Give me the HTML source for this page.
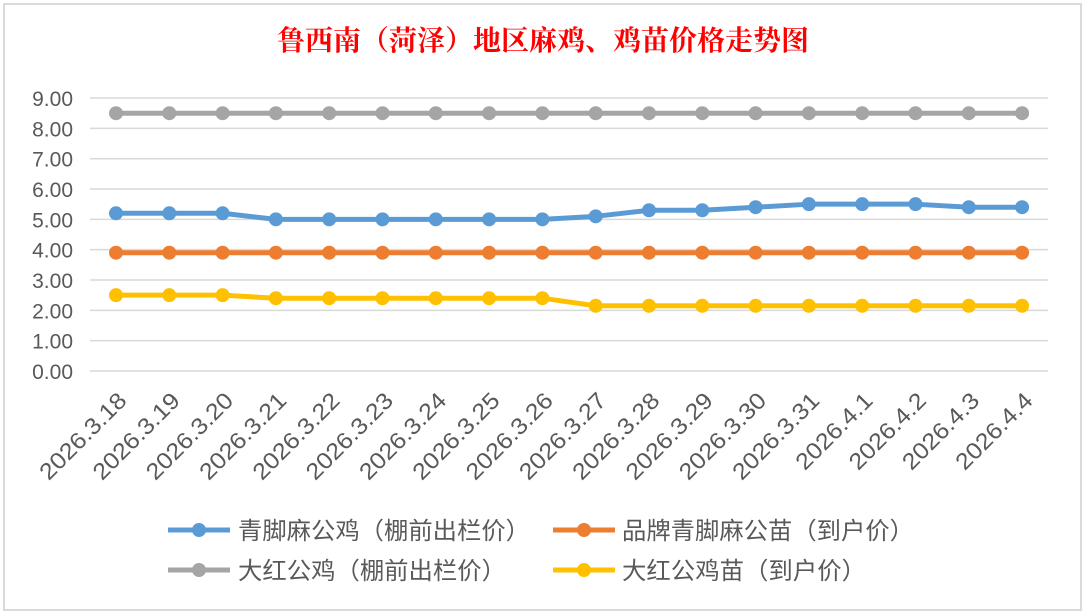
<!DOCTYPE html>
<html><head><meta charset="utf-8"><style>
html,body{margin:0;padding:0;background:#fff;}
svg{display:block;}
text{font-family:"Liberation Sans","Noto Sans CJK SC",sans-serif;}
</style></head><body>
<svg width="1085" height="614" viewBox="0 0 1085 614" xmlns="http://www.w3.org/2000/svg">
<rect x="0" y="0" width="1085" height="614" fill="#fff"/>
<rect x="4" y="4" width="1077" height="606" fill="#fff" stroke="#d9d9d9" stroke-width="2"/>
<text x="543" y="50" text-anchor="middle" font-size="28" fill="#ff0000" font-weight="bold" style="font-family:'Liberation Serif','Noto Serif CJK SC',serif">鲁西南（菏泽）地区麻鸡、鸡苗价格走势图</text>
<g id="grid" stroke="#d9d9d9" stroke-width="1.5"></g>
<g id="ylab" font-size="21" fill="#595959" text-anchor="end"></g>
<g id="xlab" font-size="23" fill="#595959" text-anchor="end"></g>
<g id="series"></g>
<g font-size="24" fill="#595959">
<line x1="168" y1="530" x2="230" y2="530" stroke="#5b9bd5" stroke-width="5"/><circle cx="199" cy="530" r="7" fill="#5b9bd5"/>
<text x="238" y="539" textLength="292" lengthAdjust="spacingAndGlyphs">青脚麻公鸡（棚前出栏价）</text>
<line x1="553" y1="530" x2="615" y2="530" stroke="#ed7d31" stroke-width="5"/><circle cx="584" cy="530" r="7" fill="#ed7d31"/>
<text x="622" y="539" textLength="292" lengthAdjust="spacingAndGlyphs">品牌青脚麻公苗（到户价）</text>
<line x1="168" y1="570" x2="230" y2="570" stroke="#a5a5a5" stroke-width="5"/><circle cx="199" cy="570" r="7" fill="#a5a5a5"/>
<text x="238" y="579" textLength="268" lengthAdjust="spacingAndGlyphs">大红公鸡（棚前出栏价）</text>
<line x1="553" y1="570" x2="615" y2="570" stroke="#ffc000" stroke-width="5"/><circle cx="584" cy="570" r="7" fill="#ffc000"/>
<text x="622" y="579" textLength="244" lengthAdjust="spacingAndGlyphs">大红公鸡苗（到户价）</text>
</g>
</svg>
<script>
const ns="http://www.w3.org/2000/svg";
function el(p,t,a,txt){const e=document.createElementNS(ns,t);for(const k in a)e.setAttribute(k,a[k]);if(txt)e.textContent=txt;document.getElementById(p).appendChild(e);}
const Y=v=>371-v*30.33, X=i=>116+i*53.3;
for(let v=0;v<=9;v++){el('grid','line',{x1:90,x2:1048,y1:Y(v),y2:Y(v)});el('ylab','text',{x:73,y:Y(v)+8},v.toFixed(2));}
const d=["3.18","3.19","3.20","3.21","3.22","3.23","3.24","3.25","3.26","3.27","3.28","3.29","3.30","3.31","4.1","4.2","4.3","4.4"];
d.forEach((s,i)=>{const x=X(i)+12,y=402;el('xlab','text',{x:x,y:y,transform:`rotate(-45 ${x} ${y})`,textLength:s.length>3?112:98,lengthAdjust:"spacingAndGlyphs"},"2026."+s);});
const S=[["#a5a5a5",Array(18).fill(8.5)],
["#5b9bd5",[5.2,5.2,5.2,5.0,5.0,5.0,5.0,5.0,5.0,5.1,5.3,5.3,5.4,5.5,5.5,5.5,5.4,5.4]],
["#ed7d31",Array(18).fill(3.9)],
["#ffc000",[2.5,2.5,2.5,2.4,2.4,2.4,2.4,2.4,2.4,2.15,2.15,2.15,2.15,2.15,2.15,2.15,2.15,2.15]]];
S.forEach(([c,v])=>{el('series','polyline',{points:v.map((y,i)=>X(i)+","+Y(y)).join(" "),fill:"none",stroke:c,"stroke-width":5,"stroke-linejoin":"round"});
v.forEach((y,i)=>el('series','circle',{cx:X(i),cy:Y(y),r:7,fill:c}));});
</script>
</body></html>
